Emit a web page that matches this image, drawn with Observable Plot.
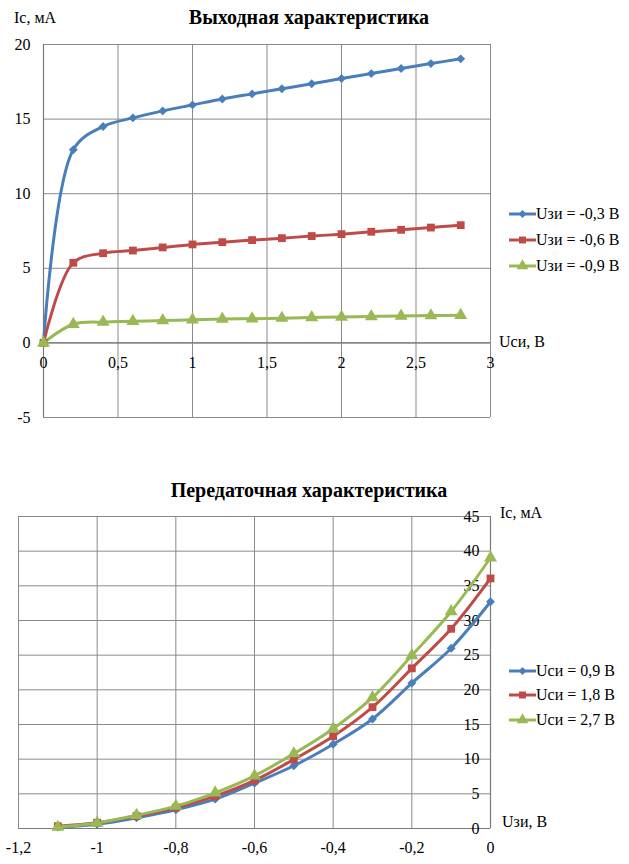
<!DOCTYPE html>
<html><head><meta charset="utf-8">
<script src="https://cdn.jsdelivr.net/npm/d3@7"></script>
<script src="https://cdn.jsdelivr.net/npm/@observablehq/plot@0.6"></script>
<style>
body{margin:0;background:#fff;font-family:'Liberation Serif','DejaVu Serif',serif;color:#000}
#wrap{position:relative;width:629px;height:864px;overflow:hidden}
.abs{position:absolute;white-space:nowrap}
.title{font-weight:bold;font-size:20px;line-height:24px}
.lab{font-size:16px;line-height:20px}
.leg{position:absolute;display:flex;align-items:center;font-size:16px;height:20px}
.leg svg{display:block}
svg text{font-family:'Liberation Serif','DejaVu Serif',serif}
</style></head>
<body><div id="wrap"></div>
<script>
// ---------- Chart 1: output characteristic ----------
const uSI = [0, 0.2, 0.4, 0.6, 0.8, 1.0, 1.2, 1.4, 1.6, 1.8, 2.0, 2.2, 2.4, 2.6, 2.8];
const ic_zi03 = [0, 12.95, 14.5, 15.08, 15.55, 15.95, 16.35, 16.69, 17.03, 17.37, 17.72, 18.05, 18.39, 18.72, 19.04];
const ic_zi06 = [0, 5.37, 6.01, 6.19, 6.4, 6.6, 6.75, 6.89, 7.02, 7.16, 7.29, 7.45, 7.58, 7.73, 7.89];
const ic_zi09 = [0, 1.25, 1.4, 1.45, 1.5, 1.55, 1.6, 1.62, 1.66, 1.7, 1.73, 1.77, 1.8, 1.83, 1.86];
const series1 = ["Uзи = -0,3 В", "Uзи = -0,6 В", "Uзи = -0,9 В"];
const xTicks1 = [0, 0.5, 1, 1.5, 2, 2.5, 3];
const yTicks1 = [-5, 0, 5, 10, 15, 20];

// ---------- Chart 2: transfer characteristic ----------
const uZI = [-1.1, -1.0, -0.9, -0.8, -0.7, -0.6, -0.5, -0.4, -0.3, -0.2, -0.1, 0];
const ic_si09 = [0.19, 0.62, 1.54, 2.7, 4.23, 6.54, 9.05, 12.16, 15.8, 20.97, 26.0, 32.7];
const ic_si18 = [0.33, 0.83, 1.8, 3.0, 4.66, 6.93, 9.96, 13.3, 17.5, 23.1, 28.8, 36.07];
const ic_si27 = [0.2, 0.8, 1.9, 3.23, 5.15, 7.6, 10.8, 14.4, 18.9, 24.96, 31.3, 39.05];
const series2 = ["Uси = 0,9 В", "Uси = 1,8 В", "Uси = 2,7 В"];
const xTicks2 = [-1.2, -1.0, -0.8, -0.6, -0.4, -0.2, 0];
const yTicks2 = [0, 5, 10, 15, 20, 25, 30, 35, 40, 45];

const colors = ["#4a7ebb", "#be4b48", "#98b954"];
const symbols = ["diamond2", "square", "triangle"];
const radii = [4, 4.4, 4.8];

const fmt = d => String(+d.toFixed(2)).replace(".", ",");
const gridColor = "#8a8a8a";

function rows(xs, ys, name) { return xs.map((x, i) => ({x, y: ys[i], s: name})); }

const data1 = [ic_zi03, ic_zi06, ic_zi09].map((ys, k) => rows(uSI, ys, series1[k]));
const data2 = [ic_si09, ic_si18, ic_si27].map((ys, k) => rows(uZI, ys, series2[k]));

function seriesMarks(data) {
  const m = [];
  data.forEach((d, k) => {
    m.push(Plot.line(d, {x: "x", y: "y", stroke: colors[k], strokeWidth: 3, curve: "catmull-rom"}));
  });
  data.forEach((d, k) => {
    m.push(Plot.dot(d, {x: "x", y: "y", fill: colors[k], symbol: () => symbols[k], r: radii[k], stroke: "none"}));
  });
  return m;
}

const serif = "'Liberation Serif','DejaVu Serif',serif";
const style = {fontFamily: serif, fontSize: "16px", color: "#000", background: "transparent", overflow: "visible"};

const p1 = Plot.plot({
  width: 629, height: 440,
  marginLeft: 43, marginRight: 139, marginTop: 44, marginBottom: 23,
  x: {type: "linear", domain: [0, 3], axis: null},
  y: {type: "linear", domain: [-5, 20], axis: null},
  symbol: {type: "identity"},
  style,
  marks: [
    Plot.gridX(xTicks1, {stroke: gridColor, strokeOpacity: 1, strokeWidth: 1}),
    Plot.gridY(yTicks1, {stroke: gridColor, strokeOpacity: 1, strokeWidth: 1}),
    Plot.ruleX([0], {stroke: "#7a7a7a", strokeWidth: 1.2}),
    Plot.ruleY([0], {stroke: "#7a7a7a", strokeWidth: 1.2}),
    Plot.text(yTicks1, {x: () => 0, y: d => d, text: fmt, textAnchor: "end", dx: -13, fontSize: 16, fontFamily: serif}),
    Plot.text(xTicks1, {x: d => d, y: () => 0, text: fmt, dy: 20, fontSize: 16, fontFamily: serif}),
    ...seriesMarks(data1)
  ]
});
p1.style.position = "absolute"; p1.style.left = "0px"; p1.style.top = "0px";

const p2 = Plot.plot({
  width: 629, height: 394,
  marginLeft: 18, marginRight: 139, marginTop: 46, marginBottom: 36,
  x: {type: "linear", domain: [-1.2, 0], axis: null},
  y: {type: "linear", domain: [0, 45], axis: null},
  symbol: {type: "identity"},
  style,
  marks: [
    Plot.gridX(xTicks2, {stroke: gridColor, strokeOpacity: 1, strokeWidth: 1}),
    Plot.gridY(yTicks2, {stroke: gridColor, strokeOpacity: 1, strokeWidth: 1}),
    Plot.ruleX([0], {stroke: "#7a7a7a", strokeWidth: 1.2}),
    Plot.ruleY([0], {stroke: "#7a7a7a", strokeWidth: 1.2}),
    Plot.text(yTicks2, {x: () => 0, y: d => d, text: fmt, textAnchor: "end", dx: -11, fontSize: 16, fontFamily: serif}),
    Plot.text(xTicks2, {x: d => d, y: () => 0, text: fmt, dy: 19, fontSize: 16, fontFamily: serif}),
    ...seriesMarks(data2)
  ]
});
p2.style.position = "absolute"; p2.style.left = "0px"; p2.style.top = "470px";

const wrap = document.getElementById("wrap");
wrap.appendChild(p1);
wrap.appendChild(p2);

function addText(txt, cls, left, top, center) {
  const d = document.createElement("div");
  d.className = "abs " + cls;
  d.textContent = txt;
  d.style.left = left + "px";
  d.style.top = top + "px";
  if (center) d.style.transform = "translateX(-50%)";
  wrap.appendChild(d);
}
addText("Выходная характеристика", "title", 309, 5, true);
addText("Ic, мА", "lab", 14, 8, false);
addText("Uси, В", "lab", 499, 332, false);
addText("Передаточная характеристика", "title", 309, 478, true);
addText("Ic, мА", "lab", 500, 503, false);
addText("Uзи, В", "lab", 502, 812, false);

const symMap = {diamond2: d3.symbolDiamond2 || d3.symbolSquare, square: d3.symbolSquare, triangle: d3.symbolTriangle};
function legendItem(label, k, left, cy) {
  const d = document.createElement("div");
  d.className = "leg";
  d.style.left = left + "px";
  d.style.top = (cy - 10) + "px";
  const sym = d3.symbol(symMap[symbols[k]], Math.PI * radii[k] * radii[k] * 0.8)();
  d.innerHTML = `<svg width="27" height="20"><line x1="0" x2="27" y1="10" y2="10" stroke="${colors[k]}" stroke-width="3"/><path d="${sym}" transform="translate(13.5,10)" fill="${colors[k]}"/></svg><span>${label}</span>`;
  wrap.appendChild(d);
}
series1.forEach((s, k) => legendItem(s, k, 509, [214, 240, 266][k]));
series2.forEach((s, k) => legendItem(s, k, 509, [671, 695, 720][k]));
</script>
</body></html>
